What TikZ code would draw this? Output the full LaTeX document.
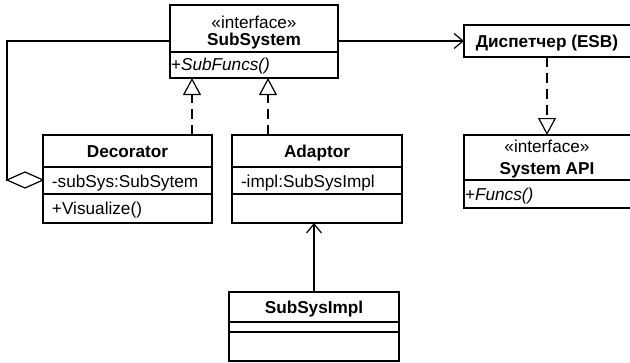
\documentclass[tikz,border=0pt]{standalone}
\usepackage{fontspec}
\setmainfont{Liberation Sans}
\usetikzlibrary{arrows.meta}
\newcommand\umlfont{\fontsize{17.2}{19}\selectfont}
\begin{document}
\begin{tikzpicture}[x=1pt,y=-1pt,line width=1.2pt,
  box/.style={draw,rectangle,inner sep=0pt,outer sep=0pt,anchor=north west},
  txt/.style={inner sep=0pt,outer sep=0pt,text height=12.4pt,text depth=0pt,font=\umlfont},
  btxt/.style={txt,font=\umlfont\bfseries},
  ltxt/.style={txt,anchor=west},
  dashline/.style={dash pattern=on 10pt off 6pt},
  gentip/.style={-{Triangle[open,length=17pt,width=18pt]}},
  deptip/.style={-{Straight Barb[length=9pt,width=15pt]}}]
\useasboundingbox (0,0) rectangle (630,362);
% boxes
\node[box,minimum width=168pt,minimum height=73pt] (ss) at (170,5) {};
\node[box,minimum width=172pt,minimum height=32pt] (disp) at (464,25) {};
\node[box,minimum width=172pt,minimum height=73pt] (api) at (464,135) {};
\node[box,minimum width=169pt,minimum height=88pt] (dec) at (43,135) {};
\node[box,minimum width=170pt,minimum height=88pt] (ad) at (232,135) {};
\node[box,minimum width=170pt,minimum height=69pt] (impl) at (229,292) {};
% compartments
\draw (ss.west |- 0,52) -- (ss.east |- 0,52);
\draw (api.west |- 0,180) -- (api.east |- 0,180);
\draw (dec.west |- 0,167) -- (dec.east |- 0,167);
\draw (dec.west |- 0,194) -- (dec.east |- 0,194);
\draw (ad.west |- 0,167) -- (ad.east |- 0,167);
\draw (ad.west |- 0,194) -- (ad.east |- 0,194);
\draw (impl.west |- 0,322) -- (impl.east |- 0,322);
\draw (impl.west |- 0,332) -- (impl.east |- 0,332);
% texts
\node[txt] (ssst) at (254,22) {«interface»};
\node[btxt] (ssn) at (254,39) {SubSystem};
\node[ltxt] (ssm) at (171,64) {+\textit{SubFuncs()}};
\node[btxt] (dispn) at (547,41) {Диспетчер (ESB)};
\node[txt] (apist) at (547,146) {«interface»};
\node[btxt] (apin) at (547,168) {System API};
\node[ltxt] (apim) at (465,194) {+\textit{Funcs()}};
\node[btxt] (decn) at (127.5,151) {Decorator};
\node[ltxt] (deca) at (52,181) {-subSys:SubSytem};
\node[ltxt] (decm) at (52,208) {+Visualize()};
\node[btxt] (adn) at (317,151) {Adaptor};
\node[ltxt] (ada) at (241,181) {-impl:SubSysImpl};
\node[btxt] (impln) at (314,307) {SubSysImpl};
% connectors
\coordinate (g1) at (192,0);
\coordinate (g2) at (268,0);
\coordinate (agg) at (7,180);
\draw[dashline,gentip] (g1 |- dec.north) -- (g1 |- ss.south);
\draw[dashline,gentip] (g2 |- ad.north) -- (g2 |- ss.south);
\draw[dashline,gentip] (547,57) -- (547,135);
\draw[deptip] (ss.east |- disp.west) -- (disp.west);
\draw[deptip] (impl.north) -- (impl.north |- ad.south);
\draw (ss.west |- disp.west) -| (agg) -- ++(0.5,0);
\draw[fill=white,line join=miter] (dec.west |- agg) -- ++(-18,-8) -- ++(-18,8) -- ++(18,8) -- cycle;
\end{tikzpicture}
\end{document}
